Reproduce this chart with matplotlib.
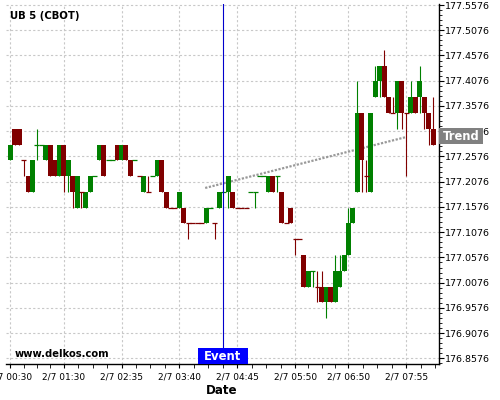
import matplotlib
matplotlib.use("Agg")
import matplotlib.pyplot as plt
import numpy as np
from matplotlib.patches import Rectangle
from matplotlib.transforms import blended_transform_factory

# 5 minute bars from 2/7 00:30, prices in 32nds above 177
first_bar_min = 30
bar_min = 5
open_32 = [8, 10, 10, 8, 7, 6, 9, 9, 8, 9, 8, 7, 9, 7, 7, 5, 6, 5, 6, 7,
           8, 9, 8, 8, 9, 8, 9, 8, 8, 7, 6, 6, 7, 7, 8, 6, 5, 5, 5, 5,
           4, 4, 4, 4, 4, 5, 4, 5, 6, 6, 6, 5, 5, 5, 6, 6, 7, 7, 6, 7,
           7, 6, 4, 5, 3, 3, 2, 0, 1, 0, 0, -1, 0, -1, 0, 1, 2, 4, 6, 11,
           7, 6, 12, 13, 14, 12, 11, 11, 13, 11, 11, 12, 12, 12, 11, 10]
high_32 = [9, 10, 10, 8, 7, 8, 10, 9, 9, 9, 8, 9, 9, 8, 7, 7, 6, 6, 7, 7,
           9, 9, 8, 8, 9, 9, 9, 8, 8, 7, 7, 7, 7, 8, 8, 6, 5, 5, 6, 5,
           4, 4, 4, 4, 5, 5, 4, 6, 6, 7, 6, 5, 5, 5, 6, 6, 7, 7, 7, 7,
           7, 6, 4, 5, 3, 3, 2, 1, 1, 1, 1, 0, 0, 2, 2, 2, 5, 5, 13, 11,
           8, 11, 14, 14, 15, 12, 12, 13, 13, 11, 13, 12, 14, 12, 11, 12]
low_32 = [8, 9, 9, 7, 6, 6, 8, 9, 8, 7, 7, 7, 6, 6, 5, 5, 5, 5, 6, 7,
          8, 7, 8, 8, 8, 8, 8, 7, 8, 7, 6, 6, 7, 7, 6, 5, 5, 5, 5, 4,
          3, 4, 4, 4, 4, 5, 3, 5, 6, 5, 5, 5, 5, 5, 6, 5, 7, 7, 6, 6,
          6, 4, 4, 4, 2, 3, 0, 0, 0, -1, -1, -2, -1, -1, 0, 1, 2, 4, 6, 6,
          6, 6, 12, 12, 12, 11, 11, 10, 10, 7, 11, 11, 11, 10, 9, 9]
close_32 = [9, 9, 9, 8, 6, 8, 9, 9, 9, 7, 7, 9, 7, 8, 6, 7, 6, 6, 7, 7,
            9, 7, 8, 8, 8, 9, 8, 7, 8, 7, 7, 6, 7, 8, 6, 5, 5, 5, 6, 4,
            4, 4, 4, 4, 5, 5, 4, 6, 6, 7, 5, 5, 5, 5, 6, 6, 7, 7, 7, 6,
            7, 4, 4, 4, 3, 3, 0, 1, 1, 0, -1, 0, -1, 1, 1, 2, 4, 5, 11, 8,
            7, 11, 13, 14, 12, 11, 11, 13, 11, 11, 12, 11, 13, 11, 10, 9]

tick_pos = [30, 90, 155, 220, 285, 350, 410, 475]
tick_labels = ["2/7 00:30", "2/7 01:30", "2/7 02:35", "2/7 03:40",
               "2/7 04:45", "2/7 05:50", "2/7 06:50", "2/7 07:55"]
y_ticks = [176.8576 + 0.05 * i for i in range(15)]
event_min = 269
trend_x = [249, 473.5]
trend_y = [177.1952, 177.2955]

o = 177 + np.array(open_32) / 32
h = 177 + np.array(high_32) / 32
l = 177 + np.array(low_32) / 32
c = 177 + np.array(close_32) / 32
x = first_bar_min + bar_min * np.arange(len(o))

green = "#008000"
red = "#800000"

fig = plt.figure(figsize=(5, 4), dpi=100)
ax = fig.add_axes([0.012, 0.089, 0.866, 0.901])
ax.set_xlim(25.2, 511.7)
ax.set_ylim(176.8457, 177.5596)

# candle colours, flat bars follow previous move
cols = []
prev = green
for i in range(len(o)):
    if c[i] > o[i]:
        col = green
    elif c[i] < o[i]:
        col = red
    elif i > 0 and c[i] > c[i - 1]:
        col = green
    elif i > 0 and c[i] < c[i - 1]:
        col = red
    else:
        col = prev
    cols.append(col)
    prev = col

ax.plot(trend_x, trend_y, color="#999999", lw=1.6,
        linestyle=(0, (1, 0.7)), zorder=2)

w = 5.6
ax.vlines(x, l, h, colors=cols, lw=0.8, zorder=3)
body = np.abs(c - o)
ax.bar(x, body, bottom=np.minimum(o, c), width=w, color=cols,
       linewidth=0, zorder=4)
flat = body == 0
ax.hlines(c[flat], x[flat] - w / 2, x[flat] + w / 2,
          colors=[cols[i] for i in np.where(flat)[0]], lw=0.9, zorder=4)

ax.axvline(event_min, color="#0000cc", lw=0.8, zorder=6)

# axes styling
for s in ["left", "top"]:
    ax.spines[s].set_visible(False)
for s in ["right", "bottom"]:
    ax.spines[s].set_linewidth(1)
ax.yaxis.tick_right()
ax.set_yticks(y_ticks)
ax.set_yticklabels(["%.4f" % v for v in y_ticks])
ax.set_yticks([y_ticks[0] + 0.01 * i for i in range(-1, 71) if i % 5], minor=True)
ax.set_xticks(tick_pos)
ax.set_xticklabels(tick_labels)
minor_x = []
for a, b in zip(tick_pos[:-1], tick_pos[1:]):
    minor_x += list(np.linspace(a, b, 5)[1:-1])
minor_x += [475 + 16.25, 475 + 32.5]
ax.set_xticks(minor_x, minor=True)
ax.tick_params(axis="y", which="major", length=3.8, width=0.8, pad=0.8, labelsize=6.8)
ax.tick_params(axis="y", which="minor", length=2.4, width=0.6)
ax.tick_params(axis="x", which="major", length=3, width=0.8, pad=3, labelsize=6.5)
ax.tick_params(axis="x", which="minor", length=3, width=0.6)
ax.grid(True, which="major", color="#c8c8c8", lw=0.8, linestyle=(0, (2, 2)))
ax.set_axisbelow(True)

# event label
bt = blended_transform_factory(ax.transData, ax.transAxes)
ax.add_patch(Rectangle((event_min - 28, 0.0), 56, 0.046, transform=bt,
                       facecolor="#0000ff", edgecolor="none", zorder=7, clip_on=False))
ax.text(event_min, 0.023, "Event", transform=bt, ha="center", va="center",
        color="white", fontsize=8.4, fontweight="bold", zorder=8)

# trend label
ax.add_patch(Rectangle((1.0007, 0.6114), 0.1016, 0.0436, transform=ax.transAxes,
                       facecolor="#808080", edgecolor="none", zorder=7, clip_on=False))
ax.text(1.0515, 0.633, "Trend", transform=ax.transAxes, ha="center", va="center",
        color="white", fontsize=8.3, fontweight="bold", zorder=8)

fig.text(10 / 500, 1 - 19.3 / 400, "UB 5 (CBOT)", fontsize=7.3,
         fontweight="bold", va="baseline")
fig.text(15 / 500, 1 - 357.3 / 400, "www.delkos.com", fontsize=7.2,
         fontweight="bold", va="baseline")
fig.text(222 / 500, 1 - 394 / 400, "Date", fontsize=8.6,
         fontweight="bold", ha="center", va="baseline")

fig.savefig("out.png", dpi=100)
